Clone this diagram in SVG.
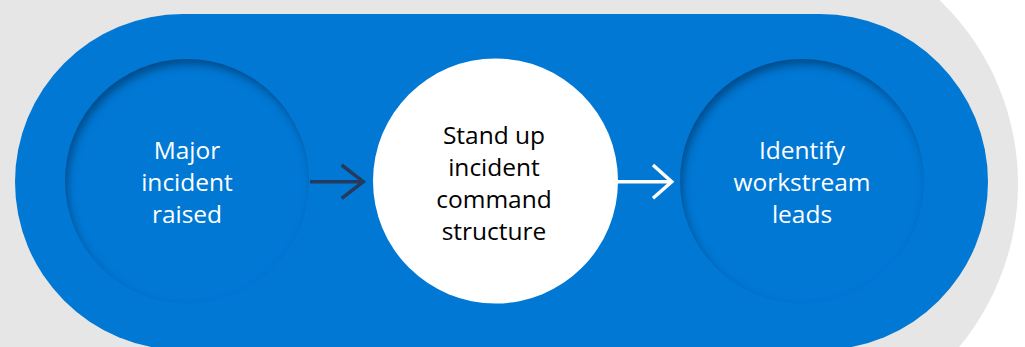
<svg xmlns="http://www.w3.org/2000/svg" width="1025" height="347" viewBox="0 0 1025 347">
  <style>
    .lbl { font-family: "Open Sans", "Noto Sans", "Liberation Sans", sans-serif; font-size: 24.5px; font-weight: 400; text-anchor: middle; }
    .light { fill: #ffffff; }
    .dark { fill: #000000; }
    .well { fill: #0078d4; }
  </style>
  <defs>
    <filter id="inset" x="-20%" y="-20%" width="140%" height="140%">
      <feComponentTransfer in="SourceAlpha">
        <feFuncA type="table" tableValues="1 0"/>
      </feComponentTransfer>
      <feGaussianBlur stdDeviation="4.5"/>
      <feOffset dx="3" dy="6" result="ob"/>
      <feFlood flood-color="#00284f" flood-opacity="0.7"/>
      <feComposite in2="ob" operator="in"/>
      <feComposite in2="SourceAlpha" operator="in" result="sh"/>
      <feMerge>
        <feMergeNode in="SourceGraphic"/>
        <feMergeNode in="sh"/>
      </feMerge>
    </filter>
  </defs>

  <rect x="0" y="0" width="1025" height="347" fill="#ffffff"/>
  <g id="backdrop">
    <path d="M-20,-71 L763,-71 A255,255 0 0 1 763,439 L-20,439 Z" fill="#e6e6e6"/>
    <rect x="15" y="14" width="973" height="336" rx="168" ry="168" fill="#0078d4"/>
  </g>

  <g id="node-major">
    <circle class="well" cx="187" cy="181" r="122" filter="url(#inset)"/>
    <text class="lbl light"><tspan x="187" y="159">Major</tspan><tspan x="187" y="191">incident</tspan><tspan x="187" y="223">raised</tspan></text>
  </g>

  <g id="node-standup">
    <circle cx="495.5" cy="181" r="122.5" fill="#ffffff"/>
    <text class="lbl dark"><tspan x="494" y="144">Stand up</tspan><tspan x="494" y="176">incident</tspan><tspan x="494" y="208">command</tspan><tspan x="494" y="240">structure</tspan></text>
  </g>

  <g id="node-identify">
    <circle class="well" cx="802" cy="181" r="122" filter="url(#inset)"/>
    <text class="lbl light"><tspan x="802" y="159">Identify</tspan><tspan x="802" y="191">workstream</tspan><tspan x="802" y="223">leads</tspan></text>
  </g>

  <g id="connectors" fill="none" stroke-width="3.5">
    <path d="M310,181.7 H362 M341.7,165 L363.3,181.7 L341.7,198.3" stroke="#243a5e"/>
    <path d="M617,181.7 H670 M653,165 L671.7,181.7 L653,198.3" stroke="#ffffff"/>
  </g>
</svg>
